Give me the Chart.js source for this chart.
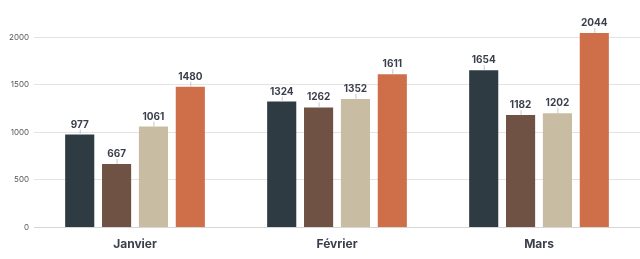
<!DOCTYPE html>
<html><head><meta charset="utf-8">
<script src="https://cdn.jsdelivr.net/npm/chart.js@4"></script>
<style>html,body{margin:0;padding:0;background:#fff}#w{width:640px;height:259px}</style>
</head><body><div id="w"><canvas id="c"></canvas></div>
<script>
const categories = ["Janvier", "Février", "Mars"];
const serieA = [977, 1324, 1654];
const serieB = [667, 1262, 1182];
const serieC = [1061, 1352, 1202];
const serieD = [1480, 1611, 2044];
const yTicks = [0, 500, 1000, 1500, 2000];
const colors = ["#2f3b42", "#6f5244", "#c8bda2", "#cf6f4a"];

const labelPlugin = {
  id: 'vlabels',
  afterDatasetsDraw(chart) {
    const ctx = chart.ctx;
    ctx.save();
    chart.data.datasets.forEach((ds, i) => {
      const meta = chart.getDatasetMeta(i);
      meta.data.forEach((bar, j) => {
        const x = bar.x, y = bar.y;
        ctx.strokeStyle = '#c4c8ce';
        ctx.lineWidth = 1;
        ctx.beginPath();
        ctx.moveTo(x + 0.5, y);
        ctx.lineTo(x + 0.5, y - 5);
        ctx.stroke();
        ctx.fillStyle = '#3a3f4b';
        ctx.font = 'bold 10px Inter, "Noto Sans", sans-serif';
        ctx.textAlign = 'center';
        ctx.textBaseline = 'bottom';
        ctx.fillText(String(ds.data[j]), x, y - 5);
      });
    });
    ctx.restore();
  }
};

new Chart(document.getElementById('c'), {
  type: 'bar',
  data: {
    labels: categories,
    datasets: [
      { label: 'A', data: serieA, backgroundColor: colors[0] },
      { label: 'B', data: serieB, backgroundColor: colors[1] },
      { label: 'C', data: serieC, backgroundColor: colors[2] },
      { label: 'D', data: serieD, backgroundColor: colors[3] }
    ]
  },
  options: {
    responsive: true,
    maintainAspectRatio: false,
    animation: false,
    layout: { padding: { top: 33, left: 4, right: 0, bottom: 5 } },
    plugins: { legend: { display: false }, tooltip: { enabled: false } },
    datasets: { bar: { categoryPercentage: 0.73, barPercentage: 0.79 } },
    scales: {
      x: {
        grid: { display: false },
        border: { color: '#d6d6d6' },
        ticks: { color: '#3a3f4b', font: { family: 'Inter, "Noto Sans", sans-serif', size: 12, weight: 'bold' }, padding: 2 }
      },
      y: {
        min: 0, max: 2044,
        afterBuildTicks(axis) { axis.ticks = yTicks.map(v => ({ value: v })); },
        grid: { color: '#e3e3e3', drawTicks: false },
        border: { display: false },
        ticks: { color: '#555', font: { family: 'Inter, "Noto Sans", sans-serif', size: 8 }, padding: 5, callback: v => String(v) }
      }
    }
  },
  plugins: [labelPlugin]
});
</script></body></html>
